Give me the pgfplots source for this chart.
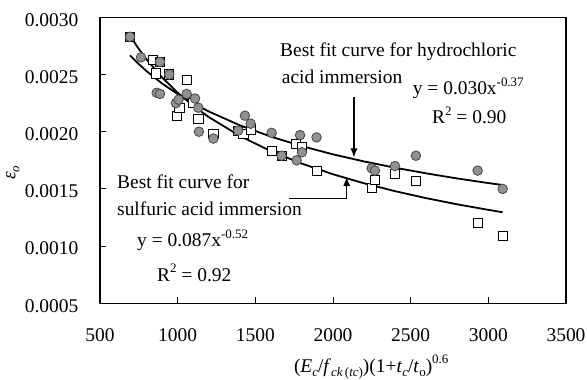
\documentclass[border=0pt]{standalone}
\usepackage{fontspec}
\setmainfont{Liberation Serif}
\usepackage{pgfplots}
\pgfplotsset{compat=1.18}
\usepackage{pgfplotstable}
\usetikzlibrary{arrows.meta}

\definecolor{dotfill}{RGB}{145,145,145}
\definecolor{dotline}{RGB}{70,70,70}

\newcommand{\sups}[1]{\raisebox{0.42em}{\fontsize{13}{13}\selectfont #1}}
\newcommand{\subs}[1]{\raisebox{-0.2em}{\fontsize{13}{13}\selectfont #1}}

% hydrochloric acid immersion (filled circles)
\pgfplotstableread{
x y
693 0.00283
764 0.00265
886 0.00261
946 0.00250
865 0.00234
886 0.00233
989 0.00225
1006 0.00228
1058 0.00233
1112 0.00229
1133 0.00221
1137 0.00200
1230 0.00194
1390 0.00201
1433 0.00214
1470 0.00207
1605 0.00199
1669 0.00179
1766 0.00175
1788 0.00197
1800 0.00182
1894 0.00195
2249 0.00168
2270 0.00166
2399 0.00170
2534 0.00179
2931 0.00166
3092 0.00150
}\hcl

% sulfuric acid immersion (open squares)
\pgfplotstableread{
x y
693 0.00283
839 0.00263
886 0.00261
860 0.00251
946 0.00250
1058 0.00245
993 0.00214
1011 0.00221
1096 0.00225
1133 0.00211
1230 0.00198
1390 0.00201
1423 0.00198
1470 0.00202
1605 0.00183
1669 0.00179
1762 0.00189
1800 0.00187
1894 0.00166
2249 0.00151
2270 0.00158
2399 0.00163
2534 0.00157
2931 0.00120
3092 0.00109
}\sulf

% power-law trend lines evaluated at fixed x
\pgfplotstableread{
x y
693 0.002667
750 0.002591
800 0.002529
900 0.002421
1000 0.002329
1100 0.002248
1200 0.002177
1400 0.002056
1600 0.001957
1800 0.001874
2000 0.001802
2200 0.001740
2400 0.001685
2600 0.001636
2800 0.001591
3000 0.001551
3092 0.001534
}\hclfit

\pgfplotstableread{
x y
693 0.002838
750 0.002723
800 0.002632
900 0.002474
1000 0.002341
1100 0.002228
1200 0.002128
1400 0.001963
1600 0.001830
1800 0.001721
2000 0.001628
2200 0.001549
2400 0.001480
2600 0.001419
2800 0.001365
3000 0.001317
3092 0.001296
}\sulffit

\begin{document}
\fontsize{19.5}{23}\selectfont
\begin{tikzpicture}
\begin{axis}[
  scale only axis,
  width=466bp, height=286bp,
  xmin=500, xmax=3500, ymin=0.0005, ymax=0.0030,
  xtick={500,1000,...,3500},
  ytick={0.0005,0.0010,0.0015,0.0020,0.0025,0.0030},
  tick pos=left, tick align=inside,
  major tick length=6bp,
  axis line style={line width=1.2bp},
  every tick/.style={black, line width=0.9bp},
  /pgf/number format/assume math mode=true,
  x tick label style={/pgf/number format/1000 sep={}, yshift=-19bp},
  y tick label style={/pgf/number format/.cd, fixed, fixed zerofill, precision=4, /tikz/.cd, xshift=-15bp, yshift=-2.5bp},
  scaled y ticks=false,
  xlabel={(\textit{E}\subs{\textit{c}}/\textit{f}\subs{\textit{ck}\,(\textit{tc})})(1+\textit{t}\subs{\textit{c}}/\textit{t}\subs{o})\sups{0.6}},
  x label style={at={(axis description cs:0.582,-0.223)}, anchor=center},
  ylabel={\textit{ε}\subs{\textit{o}}},
  y label style={at={(axis description cs:-0.187,0.456)}, anchor=center},
  clip=false,
]
\addplot[only marks, mark=square*, mark size=4.6bp,
  mark options={fill=white, draw=black, line width=0.8bp}] table[x=x,y=y] {\sulf};
\addplot[only marks, mark=*, mark size=4.8bp,
  mark options={fill=dotfill, draw=dotline, line width=0.8bp}] table[x=x,y=y] {\hcl};
\addplot[black, line width=1.8bp, no marks] table[x=x,y=y] {\hclfit};
\addplot[black, line width=1.8bp, no marks] table[x=x,y=y] {\sulffit};

\draw[line width=1.1bp, -{Latex[length=9bp,width=7bp]}]
  (axis cs:2135,0.002306) -- (axis cs:2135,0.001775);
\draw[line width=1.1bp, -{Latex[length=9bp,width=7bp]}]
  (axis cs:1717,0.00142) -- (axis cs:2088,0.00142) -- (axis cs:2088,0.001605);
\end{axis}

% annotations, placed relative to the lower-left corner of the plot area
\node[anchor=base west, inner sep=0] at (180bp,246.3bp) {Best fit curve for hydrochloric};
\node[anchor=base west, inner sep=0] at (181.7bp,219.3bp) {acid immersion};
\node[anchor=base west, inner sep=0] at (312.7bp,208.3bp) {y = 0.030x\sups{-0.37}};
\node[anchor=base west, inner sep=0] at (332bp,179.3bp) {R\sups{2} = 0.90};
\node[anchor=base west, inner sep=0] at (17bp,114.3bp) {Best fit curve for};
\node[anchor=base west, inner sep=0] at (17bp,87.3bp) {sulfuric acid immersion};
\node[anchor=base west, inner sep=0] at (37bp,56.3bp) {y = 0.087x\sups{-0.52}};
\node[anchor=base west, inner sep=0] at (57bp,22.3bp) {R\sups{2} = 0.92};

\pgfresetboundingbox
\path[use as bounding box] (-100bp,-76.7bp) rectangle (487bp,303.3bp);
\end{tikzpicture}
\end{document}
